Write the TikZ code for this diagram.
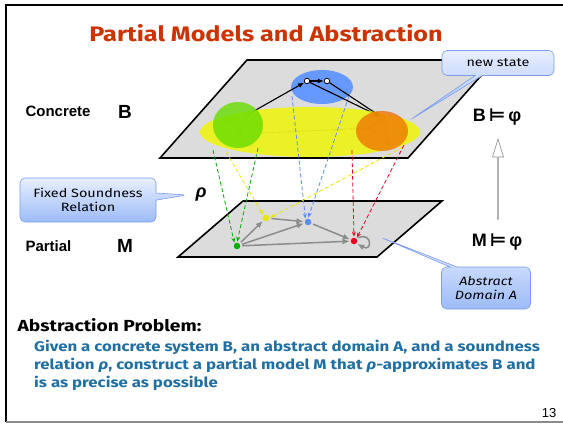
\documentclass[tikz,border=0pt]{standalone}
\usepackage{fontspec}
\setmainfont{Liberation Sans}
\newfontfamily\comicfont[FakeStretch=1.2]{Fira Sans}
\newfontfamily\symbfont{DejaVu Sans}
\usetikzlibrary{arrows.meta,shapes.geometric,shapes.callouts,shapes.arrows,calc}
\definecolor{slideRed}{HTML}{CC3300}
\definecolor{slideBlue}{HTML}{1F6FA3}
\definecolor{planeGray}{HTML}{DCDCDC}
\definecolor{stateBlue}{HTML}{6699FF}
\definecolor{stateGreen}{HTML}{66DD00}
\definecolor{stateOrange}{HTML}{F06A00}
\definecolor{stateYellow}{HTML}{F0F500}
\definecolor{dotGreen}{HTML}{00B000}
\definecolor{dotYellow}{HTML}{E6E600}
\definecolor{dotBlue}{HTML}{5B8CF5}
\definecolor{dotRed}{HTML}{EE0022}
\definecolor{calloutTop}{HTML}{E8EFFF}
\definecolor{calloutBottom}{HTML}{9CBBF7}
\definecolor{calloutEdge}{HTML}{7C9DEB}
\definecolor{edgeGray}{HTML}{8C8C8C}
\tikzset{
  plane/.style={
    draw=black,
    fill=planeGray,
    line width=1.6pt,
    line join=miter
  },
  absDot/.style={
    circle,
    inner sep=0pt,
    minimum size=6.5pt
  },
  whiteState/.style={
    circle,
    draw=black,
    fill=white,
    line width=0.8pt,
    inner sep=0pt,
    minimum size=5.5pt
  },
  faintState/.style={
    circle,
    draw=black!70,
    line width=0.6pt,
    inner sep=0pt,
    minimum size=4pt
  },
  faintEdge/.style={
    densely dotted,
    line width=0.8pt,
    draw=black!80
  },
  transArrow/.style={
    -{Latex[length=6pt,width=5pt]},
    line width=1.1pt,
    draw=black
  },
  absArrow/.style={
    -{Latex[length=7pt,width=6pt]},
    line width=1.5pt,
    draw=edgeGray,
    shorten >=1pt,
    shorten <=2pt
  },
  rhoArrow/.style={
    -{Stealth[length=5pt,width=4pt]},
    line width=0.8pt,
    dash pattern=on 4pt off 2.5pt,
    shorten >=1pt
  },
  callout/.style={
    rectangle callout,
    rounded corners=5pt,
    draw=calloutEdge,
    line width=0.6pt,
    top color=calloutTop,
    bottom color=calloutBottom,
    align=center,
    inner sep=2pt,
    font=\comicfont\fontsize{12}{14}\selectfont
  },
  sideLabel/.style={
    anchor=west,
    font=\bfseries\fontsize{15}{17}\selectfont
  },
  modelLabel/.style={
    font=\bfseries\fontsize{19}{21}\selectfont
  },
  entail/.style={
    font=\bfseries\fontsize{18}{20}\selectfont
  },
  liftArrow/.style={
    single arrow,
    draw=edgeGray,
    fill=white,
    line width=0.6pt,
    rotate=90,
    minimum height=80pt,
    minimum width=11pt,
    single arrow head extend=2.5pt,
    single arrow tip angle=34,
    inner sep=0pt
  }
}

\begin{document}
\begin{tikzpicture}[x=1pt,y=-1pt]
  \useasboundingbox (0,0) rectangle (563,424);
  % slide frame and title
  \draw[line width=2.5pt] (563,5) -- (6,5) -- (6,422);
  \draw[line width=2pt,draw=black!45] (6,422) -- (563,422);
  \node[font=\comicfont\bfseries\fontsize{21}{24}\selectfont,text=slideRed] (title) at (266,33) {Partial Models and Abstraction};

  % the two planes
  \draw[plane] (243,201) -- (442,201) -- (377,257) -- (178,257) -- cycle;
  \draw[plane] (247,60) -- (495,60) -- (408,158) -- (160,158) -- cycle;

  % concrete system B
  \fill[stateBlue] (322,87) ellipse [x radius=31pt,y radius=17pt];
  \node[faintState] (ga) at (228,120) {};
  \node[faintState] (gb) at (247,115) {};
  \node[faintState] (gc) at (239,134) {};
  \node[faintState] (oa) at (383,118) {};
  \node[faintState] (ob) at (370,128) {};
  \node[faintState] (oc) at (388,143) {};
  \draw[faintEdge] (ga) -- (gb);
  \draw[faintEdge] (gb) -- (gc);
  \draw[faintEdge] (ga) -- (gc);
  \draw[faintEdge] (gc) -- (ob);
  \draw[faintEdge] (ob) -- (oa);
  \draw[faintEdge] (oa) -- (oc);
  \draw[faintEdge] (ob) -- (oc);
  \node[whiteState] (w1) at (307,81) {};
  \node[whiteState] (w2) at (327,81) {};
  \draw[transArrow] (gb) -- (w1);
  \draw[transArrow] (w1) -- (w2);
  \draw[transArrow] (w1) -- (oa);
  \draw[transArrow] (w2) -- (oa);
  \fill[stateYellow,opacity=0.82] (310,132) ellipse [x radius=110pt,y radius=25pt];
  \fill[stateGreen,opacity=0.8] (238,125) ellipse [x radius=25pt,y radius=23pt];
  \fill[stateOrange,opacity=0.72] (382,131) ellipse [x radius=26pt,y radius=20pt];

  % partial model M
  \node[absDot,fill=dotGreen] (mg) at (237,246) {};
  \node[absDot,fill=dotYellow] (my) at (266,218) {};
  \node[absDot,fill=dotBlue] (mb) at (308,222) {};
  \node[absDot,fill=dotRed] (mr) at (354,241) {};

  % soundness relation
  \coordinate (g1) at (213,150);
  \coordinate (g2) at (258,148);
  \coordinate (y1) at (226,152);
  \coordinate (y2) at (403,147);
  \coordinate (b1) at (292,96);
  \coordinate (b2) at (349,96);
  \coordinate (r1) at (352,150);
  \coordinate (r2) at (404,145);
  \draw[rhoArrow,draw=dotGreen] (g1) -- (mg.north west);
  \draw[rhoArrow,draw=dotGreen] (g2) -- (mg.north);
  \draw[rhoArrow,draw=dotYellow] (y1) -- (my.north west);
  \draw[rhoArrow,draw=dotYellow] (y2) -- (my.east);
  \draw[rhoArrow,draw=dotBlue] (b1) -- (mb.north west);
  \draw[rhoArrow,draw=dotBlue] (b2) -- (mb.north);
  \draw[rhoArrow,draw=dotRed] (r1) -- (mr.north);
  \draw[rhoArrow,draw=dotRed] (r2) -- (mr.north east);

  \draw[absArrow] (my) -- (mb);
  \draw[absArrow] (mg) -- (my);
  \draw[absArrow] (mg) -- (mb);
  \draw[absArrow] (mg) -- (mr);
  \draw[absArrow] (mb) -- (mr);
  \draw[absArrow] (mr.north east) .. controls +(16,-7) and +(16,9) .. (mr.south east);

  % labels
  \node[sideLabel] (concrete) at (22,111) {Concrete};
  \node[modelLabel] (bsys) at (125,112) {B};
  \node[sideLabel] (partial) at (22,246) {Partial};
  \node[modelLabel] (msys) at (125,246) {M};
  \node[font=\bfseries\itshape\fontsize{18}{20}\selectfont] (rho) at (201,195) {ρ};
  \node[entail] (bphi) at (497,117) {B\,{\symbfont ⊨}\,φ};
  \node[entail] (mphi) at (497,242) {M\,{\symbfont ⊨}\,φ};
  \node[liftArrow] (lift) at (498,180) {};

  % callouts
  \node[callout,minimum width=112pt,minimum height=25pt,callout absolute pointer={(410,120)}] (newstate) at (498,63) {new state};
  \node[callout,minimum width=136pt,minimum height=44pt,callout absolute pointer={(187,195)}] (soundness) at (88,200) {Fixed Soundness\\Relation};
  \node[callout,minimum width=89pt,minimum height=42pt,callout absolute pointer={(380,237)},font=\comicfont\itshape\fontsize{12}{14}\selectfont] (domain) at (486,288) {Abstract\\Domain A};

  % problem statement
  \node[anchor=west,font=\comicfont\bfseries\fontsize{16}{18}\selectfont] (probtitle) at (14,325) {Abstraction Problem:};
  \node[anchor=north west,align=left,text=slideBlue,font=\comicfont\bfseries\fontsize{14}{18}\selectfont,inner sep=0pt] (probtext) at (34,340) {Given a concrete system B, an abstract domain A, and a soundness\\relation {\itshape ρ}, construct a partial model M that {\itshape ρ}-approximates B and\\is as precise as possible};
  \node[font=\fontsize{13}{15}\selectfont] (pagenum) at (549,413) {13};
\end{tikzpicture}
\end{document}
